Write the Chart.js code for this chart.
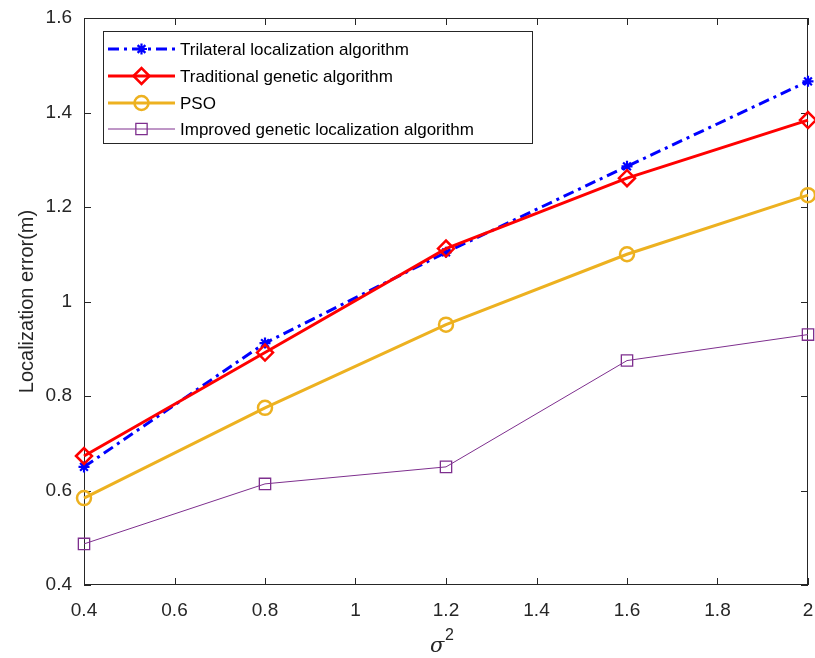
<!DOCTYPE html>
<html lang="en">
<head>
<meta charset="UTF-8" />
<title>Localization error vs sigma^2</title>
<script src="https://cdn.jsdelivr.net/npm/chart.js"></script>
<style>
  html, body { margin: 0; padding: 0; background: #fff; }
  #wrap { width: 815px; height: 658px; }
</style>
</head>
<body>
<div id="wrap"><canvas id="errChart" width="815" height="658"></canvas></div>
<script>
  // data
  const sigma2 = [0.4, 0.8, 1.2, 1.6, 2.0];
  const trilateral = [0.650, 0.912, 1.104, 1.286, 1.466];
  const traditionalGA = [0.673, 0.892, 1.112, 1.261, 1.384];
  const pso = [0.584, 0.775, 0.951, 1.100, 1.225];
  const improvedGA = [0.487, 0.614, 0.650, 0.875, 0.930];
  const xTicks = [0.4, 0.6, 0.8, 1, 1.2, 1.4, 1.6, 1.8, 2];
  const yTicks = [0.4, 0.6, 0.8, 1, 1.2, 1.4, 1.6];

  const axisColor = "#262626";
  const toPts = ys => sigma2.map((x, i) => ({ x: x, y: ys[i] }));

  // MATLAB-like box with inward ticks on all four sides
  const boxPlugin = {
    id: "boxPlugin",
    beforeDatasetsDraw(chart) {
      const { ctx, chartArea: a, scales } = chart;
      ctx.save();
      ctx.strokeStyle = axisColor;
      ctx.lineWidth = 1;
      ctx.strokeRect(a.left + 0.5, a.top + 0.5, a.right - a.left - 1, a.bottom - a.top - 1);
      ctx.beginPath();
      const len = 7;
      xTicks.forEach(v => {
        const px = Math.round(scales.x.getPixelForValue(v)) + 0.5;
        ctx.moveTo(px, a.bottom); ctx.lineTo(px, a.bottom - len);
        ctx.moveTo(px, a.top); ctx.lineTo(px, a.top + len);
      });
      yTicks.forEach(v => {
        const py = Math.round(scales.y.getPixelForValue(v)) + 0.5;
        ctx.moveTo(a.left, py); ctx.lineTo(a.left + len, py);
        ctx.moveTo(a.right, py); ctx.lineTo(a.right - len, py);
      });
      ctx.stroke();
      ctx.restore();
    },
    afterDraw(chart) {
      const { ctx, chartArea: a } = chart;
      ctx.save();
      // x axis title: italic sigma with superscript 2
      const cx = (a.left + a.right) / 2;
      ctx.fillStyle = axisColor;
      ctx.textBaseline = "alphabetic";
      ctx.textAlign = "left";
      ctx.font = "italic 21px 'DejaVu Serif', serif";
      ctx.fillText("\u03C3", cx - 16, 652);
      ctx.font = "16px 'Liberation Sans', Arial, sans-serif";
      ctx.fillText("2", cx - 1, 640);

      // legend
      const lx = 103, ly = 31, lw = 429, lh = 112;
      ctx.fillStyle = "#fff";
      ctx.fillRect(lx, ly, lw, lh);
      ctx.strokeStyle = axisColor;
      ctx.lineWidth = 1;
      ctx.strokeRect(lx + 0.5, ly + 0.5, lw, lh);
      const rows = [49, 76, 103, 129];
      chart.data.datasets.forEach((ds, i) => {
        const y = rows[i];
        ctx.save();
        ctx.strokeStyle = ds.borderColor;
        ctx.lineWidth = ds.borderWidth;
        ctx.setLineDash(ds.borderDash || []);
        ctx.beginPath();
        ctx.moveTo(108, y); ctx.lineTo(175, y);
        ctx.stroke();
        ctx.setLineDash([]);
        ctx.fillStyle = "rgba(0,0,0,0)";
        ctx.strokeStyle = ds.pointBorderColor;
        ctx.lineWidth = ds.pointBorderWidth;
        Chart.helpers.drawPoint(ctx, {
          pointStyle: ds.pointStyle, radius: ds.pointRadius, rotation: 0, borderWidth: ds.pointBorderWidth
        }, 141.5, y);
        ctx.restore();
        ctx.fillStyle = "#000";
        ctx.font = "17px 'Liberation Sans', Arial, sans-serif";
        ctx.textAlign = "left";
        ctx.textBaseline = "middle";
        ctx.fillText(ds.label, 180, y + 1);
      });
      ctx.restore();
    }
  };

  new Chart(document.getElementById("errChart"), {
    type: "line",
    data: {
      datasets: [
        {
          label: "Trilateral localization algorithm",
          data: toPts(trilateral),
          borderColor: "#0000ff", borderWidth: 3, borderDash: [11, 5, 3, 5],
          pointStyle: "star", pointRadius: 5.5, pointBorderWidth: 2.2,
          pointBorderColor: "#0000ff", pointBackgroundColor: "#0000ff",
          order: 3
        },
        {
          label: "Traditional genetic algorithm",
          data: toPts(traditionalGA),
          borderColor: "#ff0000", borderWidth: 3,
          pointStyle: "rectRot", pointRadius: 8, pointBorderWidth: 2.5,
          pointBorderColor: "#ff0000", pointBackgroundColor: "rgba(0,0,0,0)",
          order: 2
        },
        {
          label: "PSO",
          data: toPts(pso),
          borderColor: "#edb120", borderWidth: 3,
          pointStyle: "circle", pointRadius: 7, pointBorderWidth: 2.5,
          pointBorderColor: "#edb120", pointBackgroundColor: "rgba(0,0,0,0)",
          order: 1
        },
        {
          label: "Improved genetic localization algorithm",
          data: toPts(improvedGA),
          borderColor: "#7e2f8e", borderWidth: 1,
          pointStyle: "rect", pointRadius: 8, pointBorderWidth: 1.3,
          pointBorderColor: "#7e2f8e", pointBackgroundColor: "rgba(0,0,0,0)",
          order: 0
        }
      ]
    },
    options: {
      responsive: false,
      animation: false,
      devicePixelRatio: 1,
      layout: { autoPadding: false, padding: { top: 18, right: 7, left: 0, bottom: 0 } },
      elements: { line: { tension: 0, fill: false } },
      datasets: { line: { clip: false } },
      plugins: { legend: { display: false }, tooltip: { enabled: false } },
      scales: {
        x: {
          type: "linear", min: 0.4, max: 2,
          afterBuildTicks: s => { s.ticks = xTicks.map(v => ({ value: v })); },
          afterFit: s => { s.height = 73; s.paddingLeft = 0; s.paddingRight = 0; },
          grid: { display: false },
          border: { display: false },
          ticks: {
            color: axisColor, padding: 6, maxRotation: 0,
            font: { family: "'Liberation Sans', Arial, sans-serif", size: 19 },
            callback: v => String(+v.toFixed(1))
          }
        },
        y: {
          min: 0.4, max: 1.6,
          afterBuildTicks: s => { s.ticks = yTicks.map(v => ({ value: v })); },
          afterFit: s => { s.width = 84; s.paddingTop = 0; s.paddingBottom = 0; },
          grid: { display: false },
          border: { display: false },
          ticks: {
            color: axisColor, padding: 4,
            font: { family: "'Liberation Sans', Arial, sans-serif", size: 19 },
            callback: v => String(+v.toFixed(1))
          },
          title: {
            display: true, text: "Localization error(m)", color: axisColor,
            padding: { top: 15 },
            font: { family: "'Liberation Sans', Arial, sans-serif", size: 20 }
          }
        }
      }
    },
    plugins: [boxPlugin]
  });
</script>
</body>
</html>
